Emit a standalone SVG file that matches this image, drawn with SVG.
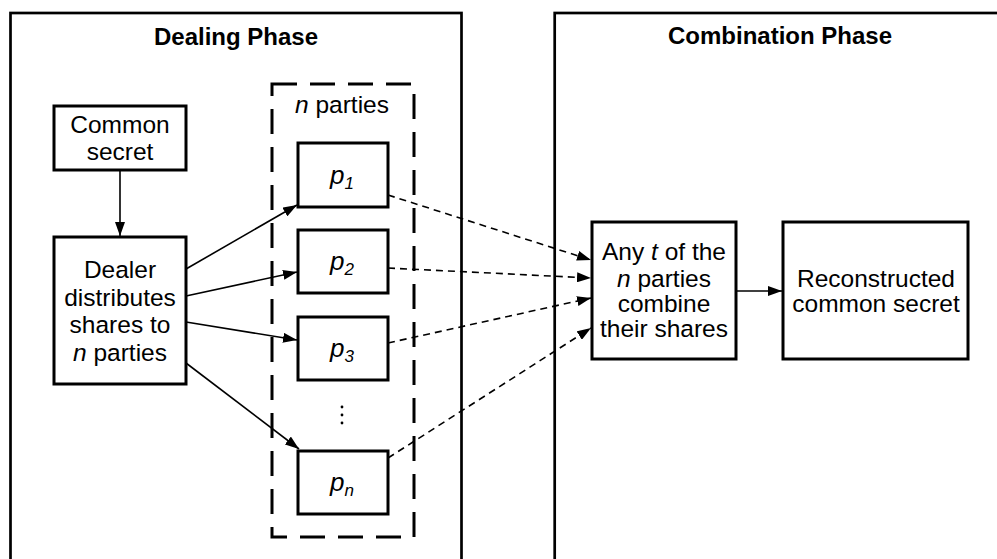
<svg xmlns="http://www.w3.org/2000/svg" width="997" height="559" viewBox="0 0 997 559">
  <style>
    .phase { fill: none; stroke: #000; stroke-width: 2.7; }
    .box { fill: #fff; stroke: #000; stroke-width: 3; }
    .group { fill: none; stroke: #000; stroke-width: 3; stroke-dasharray: 25 13; }
    .title { font-family: "Liberation Sans", Arial, sans-serif; font-size: 24px; font-weight: bold; text-anchor: middle; fill: #000; }
    .lbl { font-family: "Liberation Sans", Arial, sans-serif; font-size: 24.5px; text-anchor: middle; fill: #000; }
    .it { font-style: italic; }
    .p { font-size: 26px; }
    .sub { font-size: 17px; font-style: italic; }
    .edge { fill: none; stroke: #000; stroke-width: 1.6; }
    .dash { fill: none; stroke: #000; stroke-width: 1.6; stroke-dasharray: 7 5; }
  </style>
  <defs>
    <marker id="head" viewBox="0 0 14 10" refX="14" refY="5" markerWidth="14" markerHeight="10" markerUnits="userSpaceOnUse" orient="auto">
      <path d="M0,0 L14,5 L0,10 z" fill="#000"/>
    </marker>
  </defs>
  <rect width="997" height="559" fill="#fff"/>

  <!-- phase panels (open past the bottom / right edge) -->
  <g id="dealing-phase">
    <rect class="phase" x="10.5" y="13" width="451" height="580"/>
    <text class="title" x="236" y="45">Dealing Phase</text>
  </g>
  <g id="combination-phase">
    <rect class="phase" x="554.7" y="13" width="480" height="580"/>
    <text class="title" x="780" y="44">Combination Phase</text>
  </g>

  <!-- dashed group of parties -->
  <g id="parties-group">
    <rect class="group" x="272" y="84" width="142" height="453"/>
    <text class="lbl" x="342" y="113"><tspan class="it">n</tspan> parties</text>
  </g>

  <g id="common-secret">
    <rect class="box" x="54" y="106" width="132" height="64"/>
    <text class="lbl" x="120" y="133">Common</text>
    <text class="lbl" x="120" y="160">secret</text>
  </g>

  <g id="dealer">
    <rect class="box" x="54" y="237" width="132" height="147"/>
    <text class="lbl" x="120" y="278">Dealer</text>
    <text class="lbl" x="120" y="306">distributes</text>
    <text class="lbl" x="120" y="333">shares to</text>
    <text class="lbl" x="120" y="361"><tspan class="it">n</tspan> parties</text>
  </g>

  <g id="p1">
    <rect class="box" x="298" y="143" width="90" height="64"/>
    <text class="lbl it p" x="342" y="184">p<tspan class="sub" dy="5">1</tspan></text>
  </g>
  <g id="p2">
    <rect class="box" x="298" y="230" width="90" height="63"/>
    <text class="lbl it p" x="342" y="270">p<tspan class="sub" dy="5">2</tspan></text>
  </g>
  <g id="p3">
    <rect class="box" x="298" y="317" width="90" height="63"/>
    <text class="lbl it p" x="342" y="357">p<tspan class="sub" dy="5">3</tspan></text>
  </g>
  <g id="ellipsis">
    <circle cx="342" cy="407" r="1.4" fill="#000"/>
    <circle cx="342" cy="415" r="1.4" fill="#000"/>
    <circle cx="342" cy="423" r="1.4" fill="#000"/>
  </g>
  <g id="pn">
    <rect class="box" x="298" y="451" width="90" height="63"/>
    <text class="lbl it p" x="342" y="491">p<tspan class="sub" dy="5">n</tspan></text>
  </g>

  <g id="combine">
    <rect class="box" x="592" y="222" width="144" height="137"/>
    <text class="lbl" x="664" y="260">Any <tspan class="it">t</tspan> of the</text>
    <text class="lbl" x="664" y="287"><tspan class="it">n</tspan> parties</text>
    <text class="lbl" x="664" y="312">combine</text>
    <text class="lbl" x="664" y="337">their shares</text>
  </g>

  <g id="reconstructed">
    <rect class="box" x="783" y="222" width="185" height="137"/>
    <text class="lbl" x="876" y="287">Reconstructed</text>
    <text class="lbl" x="876" y="312">common secret</text>
  </g>

  <!-- connectors -->
  <g id="connectors">
    <line class="edge" x1="120" y1="170" x2="120" y2="236" marker-end="url(#head)"/>
    <line class="edge" x1="186" y1="269" x2="297" y2="205" marker-end="url(#head)"/>
    <line class="edge" x1="186" y1="296" x2="297" y2="272" marker-end="url(#head)"/>
    <line class="edge" x1="186" y1="322" x2="297" y2="340" marker-end="url(#head)"/>
    <line class="edge" x1="186" y1="363" x2="299" y2="449" marker-end="url(#head)"/>

    <line class="dash" x1="388" y1="195" x2="591" y2="260" marker-end="url(#head)"/>
    <line class="dash" x1="388" y1="268" x2="591" y2="278" marker-end="url(#head)"/>
    <line class="dash" x1="388" y1="343" x2="591" y2="298" marker-end="url(#head)"/>
    <line class="dash" x1="388" y1="458" x2="591" y2="328" marker-end="url(#head)"/>

    <line class="edge" x1="736" y1="291" x2="782" y2="291" marker-end="url(#head)"/>
  </g>
</svg>
